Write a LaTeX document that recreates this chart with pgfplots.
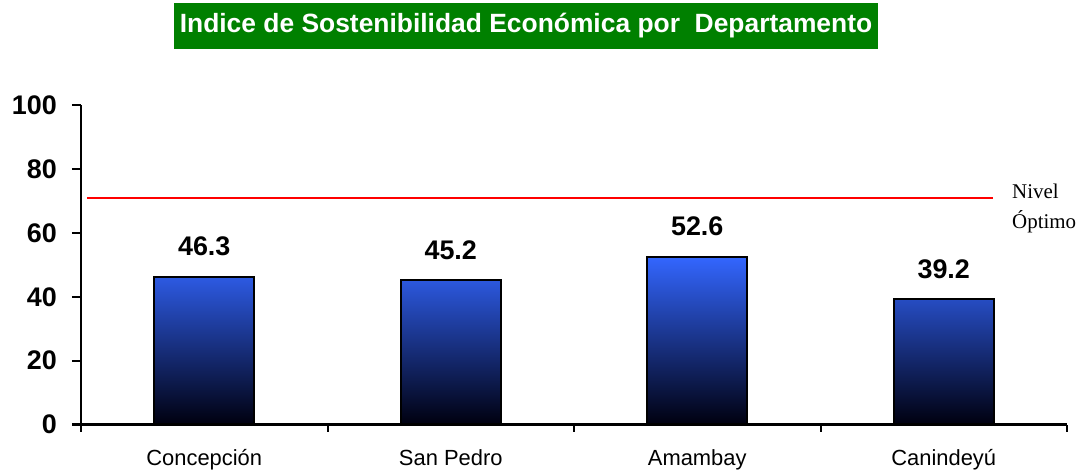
\documentclass[border=0pt]{standalone}
\usepackage{pgfplots}
\pgfplotsset{compat=1.18}
\usepackage{fontspec}
\setmainfont{Liberation Sans}
\newfontfamily\timesfont{Liberation Serif}
\definecolor{titlegreen}{RGB}{0,128,0}
\definecolor{bartop}{RGB}{51,102,255}
\definecolor{barmid}{RGB}{42,84,205}
\definecolor{barbot}{RGB}{0,0,15}
\begin{document}
\begin{tikzpicture}
\begin{axis}[
  at={(81bp,46.5bp)}, anchor=south west,
  width=986bp, height=319.3bp, scale only axis,
  xmin=-0.5, xmax=3.5, ymin=0, ymax=100,
  axis x line*=bottom, axis y line*=left,
  axis line style={line width=2bp, -},
  xtick={0,1,2,3},
  xticklabels={Concepción,San Pedro,Amambay,Canindeyú},
  minor xtick={-0.5,0.5,1.5,2.5,3.5},
  ytick={0,20,40,60,80,100},
  tick align=outside,
  major tick length=9bp,
  minor tick length=7bp,
  tick style={line width=2bp, black},
  major x tick style={draw=none},
  /pgf/number format/assume math mode=true,
  yticklabel style={font=\fontsize{27}{27}\selectfont\bfseries, inner sep=0pt, xshift=-15bp},
  xticklabel style={font=\fontsize{22}{22}\selectfont, anchor=base, inner sep=0pt, yshift=-31.5bp},
  clip=false,
]
\addplot[ybar, bar width=100bp, draw=black, line width=2bp,
  top color=bartop, middle color=barmid, bottom color=barbot,
  nodes near coords,
  nodes near coords style={font=\fontsize{27}{27}\selectfont\bfseries, text=black, anchor=base, inner sep=0pt, yshift=21bp,
    /pgf/number format/fixed, /pgf/number format/fixed zerofill, /pgf/number format/precision=1},
] coordinates {(0,46.3) (1,45.2) (2,52.6) (3,39.2)};
\addplot[red, line width=2bp, mark=none] coordinates {(-0.475,70.8) (3.2,70.8)};
\end{axis}
\node[fill=titlegreen, text=white, font=\fontsize{26.5}{26.5}\selectfont\bfseries,
  minimum width=704bp, minimum height=46bp, inner sep=0pt] at (526bp,445bp)
  {Indice de Sostenibilidad Económica por\ \ Departamento};
\node[anchor=base west, inner sep=0pt, font=\timesfont\fontsize{21}{21}\selectfont] at (1012bp,272.7bp) {Nivel};
\node[anchor=base west, inner sep=0pt, font=\timesfont\fontsize{21}{21}\selectfont] at (1012bp,242.7bp) {Óptimo};
\pgfresetboundingbox
\useasboundingbox (0,0) rectangle (1092bp,471bp);
\end{tikzpicture}
\end{document}
